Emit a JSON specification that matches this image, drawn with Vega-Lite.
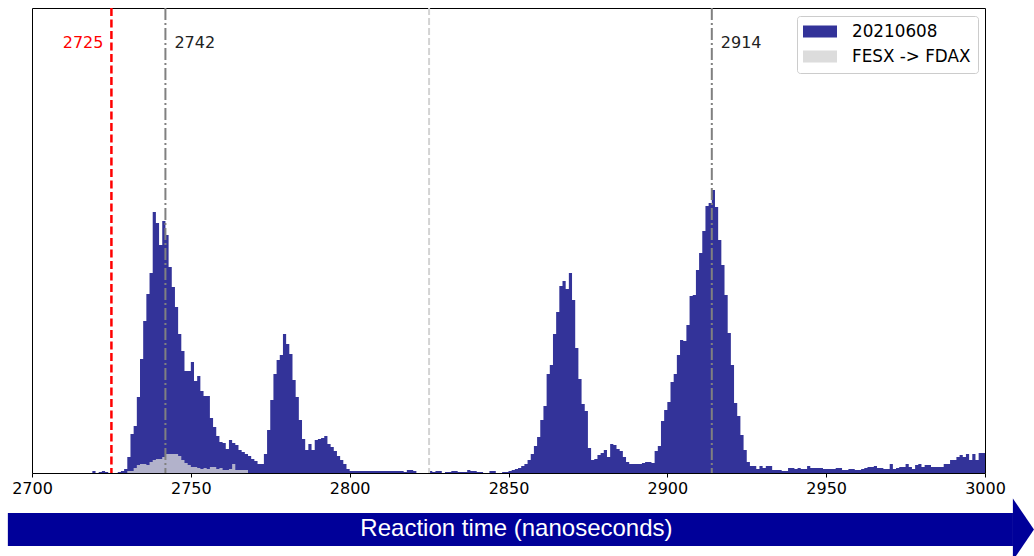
{
  "$schema": "https://vega.github.io/schema/vega-lite/v6.json",
  "width": 953,
  "height": 465,
  "autosize": {"type": "none"},
  "padding": {"left": 32, "top": 8, "right": 49, "bottom": 83},
  "config": {
    "view": {"stroke": "#000000", "strokeWidth": 1},
    "font": "DejaVu Sans"
  },
  "datasets": {
    "hist": [
      {"t": 2719, "total": 2}, {"t": 2720, "total": 0}, {"t": 2721, "total": 1}, {"t": 2722, "total": 2},
      {"t": 2723, "total": 1}, {"t": 2724, "total": 0}, {"t": 2725, "total": 0}, {"t": 2726, "total": 0},
      {"t": 2727, "total": 1}, {"t": 2728, "total": 2}, {"t": 2729, "total": 4, "fesx": 0},
      {"t": 2730, "total": 16, "fesx": 2}, {"t": 2731, "total": 39, "fesx": 2}, {"t": 2732, "total": 47, "fesx": 5},
      {"t": 2733, "total": 76, "fesx": 8}, {"t": 2734, "total": 114, "fesx": 9}, {"t": 2735, "total": 152, "fesx": 9},
      {"t": 2736, "total": 179, "fesx": 8}, {"t": 2737, "total": 200, "fesx": 11}, {"t": 2738, "total": 261, "fesx": 13},
      {"t": 2739, "total": 250, "fesx": 14}, {"t": 2740, "total": 228, "fesx": 14}, {"t": 2741, "total": 252, "fesx": 16},
      {"t": 2742, "total": 238, "fesx": 19}, {"t": 2743, "total": 206, "fesx": 19}, {"t": 2744, "total": 186, "fesx": 19},
      {"t": 2745, "total": 166, "fesx": 19}, {"t": 2746, "total": 139, "fesx": 17}, {"t": 2747, "total": 122, "fesx": 13},
      {"t": 2748, "total": 102, "fesx": 10}, {"t": 2749, "total": 102, "fesx": 8}, {"t": 2750, "total": 111, "fesx": 6},
      {"t": 2751, "total": 92, "fesx": 6}, {"t": 2752, "total": 97, "fesx": 5}, {"t": 2753, "total": 82, "fesx": 4},
      {"t": 2754, "total": 77, "fesx": 5}, {"t": 2755, "total": 77, "fesx": 4}, {"t": 2756, "total": 55, "fesx": 6},
      {"t": 2757, "total": 46, "fesx": 6}, {"t": 2758, "total": 37, "fesx": 4}, {"t": 2759, "total": 31, "fesx": 5},
      {"t": 2760, "total": 30, "fesx": 3}, {"t": 2761, "total": 24, "fesx": 3}, {"t": 2762, "total": 33, "fesx": 4},
      {"t": 2763, "total": 30, "fesx": 9}, {"t": 2764, "total": 28, "fesx": 3}, {"t": 2765, "total": 23, "fesx": 3},
      {"t": 2766, "total": 21, "fesx": 3}, {"t": 2767, "total": 19, "fesx": 3}, {"t": 2768, "total": 17, "fesx": 0},
      {"t": 2769, "total": 14}, {"t": 2770, "total": 12}, {"t": 2771, "total": 9}, {"t": 2772, "total": 9},
      {"t": 2773, "total": 19}, {"t": 2774, "total": 43}, {"t": 2775, "total": 73}, {"t": 2776, "total": 99},
      {"t": 2777, "total": 113}, {"t": 2778, "total": 118}, {"t": 2779, "total": 139}, {"t": 2780, "total": 129},
      {"t": 2781, "total": 119}, {"t": 2782, "total": 93}, {"t": 2783, "total": 76}, {"t": 2784, "total": 53},
      {"t": 2785, "total": 34}, {"t": 2786, "total": 23}, {"t": 2787, "total": 29}, {"t": 2788, "total": 23},
      {"t": 2789, "total": 33}, {"t": 2790, "total": 34}, {"t": 2791, "total": 35}, {"t": 2792, "total": 37},
      {"t": 2793, "total": 29}, {"t": 2794, "total": 26}, {"t": 2795, "total": 22}, {"t": 2796, "total": 17},
      {"t": 2797, "total": 13}, {"t": 2798, "total": 9}, {"t": 2799, "total": 4},
      {"t": 2800, "total": 2}, {"t": 2801, "total": 2}, {"t": 2802, "total": 2}, {"t": 2803, "total": 2},
      {"t": 2804, "total": 2}, {"t": 2805, "total": 2}, {"t": 2806, "total": 2}, {"t": 2807, "total": 2},
      {"t": 2808, "total": 2}, {"t": 2809, "total": 2}, {"t": 2810, "total": 2}, {"t": 2811, "total": 2},
      {"t": 2812, "total": 2}, {"t": 2813, "total": 2}, {"t": 2814, "total": 2}, {"t": 2815, "total": 2},
      {"t": 2816, "total": 2}, {"t": 2817, "total": 1}, {"t": 2818, "total": 3}, {"t": 2819, "total": 3},
      {"t": 2820, "total": 2}, {"t": 2821, "total": 0}, {"t": 2822, "total": 0}, {"t": 2823, "total": 0},
      {"t": 2824, "total": 0}, {"t": 2825, "total": 2}, {"t": 2826, "total": 1}, {"t": 2827, "total": 2},
      {"t": 2828, "total": 2}, {"t": 2829, "total": 0}, {"t": 2830, "total": 1}, {"t": 2831, "total": 1},
      {"t": 2832, "total": 2}, {"t": 2833, "total": 2}, {"t": 2834, "total": 1}, {"t": 2835, "total": 1},
      {"t": 2836, "total": 1}, {"t": 2837, "total": 3}, {"t": 2838, "total": 2}, {"t": 2839, "total": 2},
      {"t": 2840, "total": 1}, {"t": 2841, "total": 1}, {"t": 2842, "total": 0}, {"t": 2843, "total": 0},
      {"t": 2844, "total": 2}, {"t": 2845, "total": 2}, {"t": 2846, "total": 0}, {"t": 2847, "total": 0},
      {"t": 2848, "total": 1}, {"t": 2849, "total": 1}, {"t": 2850, "total": 2}, {"t": 2851, "total": 3},
      {"t": 2852, "total": 4}, {"t": 2853, "total": 5}, {"t": 2854, "total": 7}, {"t": 2855, "total": 9},
      {"t": 2856, "total": 13}, {"t": 2857, "total": 19}, {"t": 2858, "total": 27}, {"t": 2859, "total": 36},
      {"t": 2860, "total": 53}, {"t": 2861, "total": 67}, {"t": 2862, "total": 99}, {"t": 2863, "total": 108},
      {"t": 2864, "total": 139}, {"t": 2865, "total": 161}, {"t": 2866, "total": 187}, {"t": 2867, "total": 192},
      {"t": 2868, "total": 184}, {"t": 2869, "total": 200}, {"t": 2870, "total": 173}, {"t": 2871, "total": 125},
      {"t": 2872, "total": 94}, {"t": 2873, "total": 69}, {"t": 2874, "total": 62}, {"t": 2875, "total": 25},
      {"t": 2876, "total": 13}, {"t": 2877, "total": 14}, {"t": 2878, "total": 18}, {"t": 2879, "total": 20},
      {"t": 2880, "total": 23}, {"t": 2881, "total": 16}, {"t": 2882, "total": 29}, {"t": 2883, "total": 28},
      {"t": 2884, "total": 24}, {"t": 2885, "total": 22}, {"t": 2886, "total": 16}, {"t": 2887, "total": 11},
      {"t": 2888, "total": 9}, {"t": 2889, "total": 9}, {"t": 2890, "total": 9}, {"t": 2891, "total": 9},
      {"t": 2892, "total": 10}, {"t": 2893, "total": 11}, {"t": 2894, "total": 11}, {"t": 2895, "total": 10},
      {"t": 2896, "total": 22}, {"t": 2897, "total": 27}, {"t": 2898, "total": 52}, {"t": 2899, "total": 63},
      {"t": 2900, "total": 71}, {"t": 2901, "total": 91}, {"t": 2902, "total": 99}, {"t": 2903, "total": 118},
      {"t": 2904, "total": 133}, {"t": 2905, "total": 132}, {"t": 2906, "total": 148}, {"t": 2907, "total": 177},
      {"t": 2908, "total": 178}, {"t": 2909, "total": 203}, {"t": 2910, "total": 220}, {"t": 2911, "total": 242},
      {"t": 2912, "total": 267}, {"t": 2913, "total": 270}, {"t": 2914, "total": 283}, {"t": 2915, "total": 266},
      {"t": 2916, "total": 233}, {"t": 2917, "total": 208}, {"t": 2918, "total": 178}, {"t": 2919, "total": 140},
      {"t": 2920, "total": 108}, {"t": 2921, "total": 70}, {"t": 2922, "total": 57}, {"t": 2923, "total": 38},
      {"t": 2924, "total": 23}, {"t": 2925, "total": 11}, {"t": 2926, "total": 7}, {"t": 2927, "total": 7},
      {"t": 2928, "total": 4}, {"t": 2929, "total": 7}, {"t": 2930, "total": 5}, {"t": 2931, "total": 7},
      {"t": 2932, "total": 7}, {"t": 2933, "total": 3}, {"t": 2934, "total": 3}, {"t": 2935, "total": 3},
      {"t": 2936, "total": 2}, {"t": 2937, "total": 2}, {"t": 2938, "total": 5}, {"t": 2939, "total": 5},
      {"t": 2940, "total": 4}, {"t": 2941, "total": 5}, {"t": 2942, "total": 4}, {"t": 2943, "total": 4},
      {"t": 2944, "total": 7}, {"t": 2945, "total": 5}, {"t": 2946, "total": 5}, {"t": 2947, "total": 5},
      {"t": 2948, "total": 5}, {"t": 2949, "total": 4}, {"t": 2950, "total": 4}, {"t": 2951, "total": 4},
      {"t": 2952, "total": 4}, {"t": 2953, "total": 5}, {"t": 2954, "total": 5}, {"t": 2955, "total": 3},
      {"t": 2956, "total": 3}, {"t": 2957, "total": 4}, {"t": 2958, "total": 4}, {"t": 2959, "total": 3},
      {"t": 2960, "total": 3}, {"t": 2961, "total": 4}, {"t": 2962, "total": 5}, {"t": 2963, "total": 6},
      {"t": 2964, "total": 6}, {"t": 2965, "total": 7}, {"t": 2966, "total": 5}, {"t": 2967, "total": 5},
      {"t": 2968, "total": 4}, {"t": 2969, "total": 4}, {"t": 2970, "total": 9}, {"t": 2971, "total": 4},
      {"t": 2972, "total": 5}, {"t": 2973, "total": 6}, {"t": 2974, "total": 6}, {"t": 2975, "total": 9},
      {"t": 2976, "total": 6}, {"t": 2977, "total": 4}, {"t": 2978, "total": 8}, {"t": 2979, "total": 9},
      {"t": 2980, "total": 6}, {"t": 2981, "total": 8}, {"t": 2982, "total": 8}, {"t": 2983, "total": 6},
      {"t": 2984, "total": 6}, {"t": 2985, "total": 6}, {"t": 2986, "total": 6}, {"t": 2987, "total": 9},
      {"t": 2988, "total": 9}, {"t": 2989, "total": 13}, {"t": 2990, "total": 13}, {"t": 2991, "total": 16},
      {"t": 2992, "total": 18}, {"t": 2993, "total": 16}, {"t": 2994, "total": 19}, {"t": 2995, "total": 13},
      {"t": 2996, "total": 19}, {"t": 2997, "total": 13}, {"t": 2998, "total": 20}, {"t": 2999, "total": 20},
      {"t": 3000, "total": 0}
    ]
  },
  "layer": [
    {
      "data": {"name": "hist"},
      "mark": {"type": "area", "interpolate": "step-after", "clip": true},
      "encoding": {
        "x": {
          "field": "t", "type": "quantitative",
          "scale": {"domain": [2700, 3000], "nice": false, "zero": false},
          "axis": {
            "title": null, "values": [2700, 2750, 2800, 2850, 2900, 2950, 3000], "format": "d",
            "domain": false, "grid": false, "ticks": true, "tickSize": 4, "tickColor": "#000000",
            "labelFontSize": 16, "labelColor": "#000000", "labelPadding": 3, "labelFlush": false
          }
        },
        "y": {
          "field": "total", "type": "quantitative",
          "scale": {"domain": [0, 465], "nice": false, "zero": true}, "axis": null
        },
        "color": {
          "datum": "20210608",
          "scale": {"domain": ["20210608", "FESX -> FDAX"], "range": ["#333399", "#dcdcdc"]},
          "legend": {
            "title": null, "orient": "top-right", "offset": 7.5,
            "symbolType": "M-2,-0.7H2V0.7H-2Z", "symbolSize": 289, "symbolOffset": 7.5,
            "symbolStrokeWidth": 0, "symbolOpacity": 1,
            "labelFontSize": 16.8, "labelColor": "#000000", "labelOffset": 23.5,
            "strokeColor": "#cccccc", "fillColor": "#ffffff", "cornerRadius": 3,
            "padding": 7, "rowPadding": 7
          }
        }
      }
    },
    {
      "data": {"name": "hist"},
      "transform": [{"filter": "isValid(datum.fesx)"}],
      "mark": {"type": "area", "interpolate": "step-after", "color": "#b2b2cb"},
      "encoding": {
        "x": {"field": "t", "type": "quantitative"},
        "y": {"field": "fesx", "type": "quantitative"}
      }
    },
    {
      "data": {"values": [{"t": 2725}]},
      "mark": {"type": "rule", "color": "#ff0000", "strokeWidth": 2.5, "strokeDash": [8, 3.5]},
      "encoding": {"x": {"field": "t", "type": "quantitative"}}
    },
    {
      "data": {"values": [{"t": 2825}]},
      "mark": {"type": "rule", "color": "#d3d3d3", "strokeWidth": 2, "strokeDash": [7, 3]},
      "encoding": {"x": {"field": "t", "type": "quantitative"}}
    },
    {
      "data": {"values": [{"t": 2742}, {"t": 2914}]},
      "mark": {"type": "rule", "color": "#808080", "strokeWidth": 2, "strokeDash": [12, 3, 2, 3]},
      "encoding": {"x": {"field": "t", "type": "quantitative"}}
    },
    {
      "data": {"values": [{"t": 2725}]},
      "mark": {"type": "text", "color": "#ff0000", "fontSize": 16, "align": "right", "baseline": "middle", "dx": -8},
      "encoding": {
        "x": {"field": "t", "type": "quantitative"},
        "y": {"datum": 430, "type": "quantitative"},
        "text": {"field": "t", "type": "quantitative", "format": "d"}
      }
    },
    {
      "data": {"values": [{"t": 2742}, {"t": 2914}]},
      "mark": {"type": "text", "color": "#222222", "fontSize": 16, "align": "left", "baseline": "middle", "dx": 9},
      "encoding": {
        "x": {"field": "t", "type": "quantitative"},
        "y": {"datum": 430, "type": "quantitative"},
        "text": {"field": "t", "type": "quantitative", "format": "d"}
      }
    },
    {
      "data": {"values": [{"label": "Reaction time (nanoseconds)"}]},
      "mark": {"type": "rect", "color": "#000099", "clip": false},
      "encoding": {
        "x": {"datum": 2692.4, "type": "quantitative"},
        "x2": {"datum": 3008.8},
        "y": {"datum": -40, "type": "quantitative"},
        "y2": {"datum": -73}
      }
    },
    {
      "data": {"values": [{"label": "Reaction time (nanoseconds)"}]},
      "mark": {"type": "point", "shape": "M-0.34,-1L0.34,0L-0.34,1Z", "filled": true, "opacity": 1, "color": "#000099", "size": 3844, "strokeWidth": 0},
      "encoding": {
        "x": {"datum": 3012.1, "type": "quantitative"},
        "y": {"datum": -56.5, "type": "quantitative"}
      }
    },
    {
      "data": {"values": [{"label": "Reaction time (nanoseconds)"}]},
      "mark": {"type": "text", "color": "#ffffff", "font": "Liberation Sans", "fontSize": 24, "align": "center", "baseline": "middle"},
      "encoding": {
        "x": {"datum": 2852.5, "type": "quantitative"},
        "y": {"datum": -56, "type": "quantitative"},
        "text": {"field": "label"}
      }
    }
  ]
}
